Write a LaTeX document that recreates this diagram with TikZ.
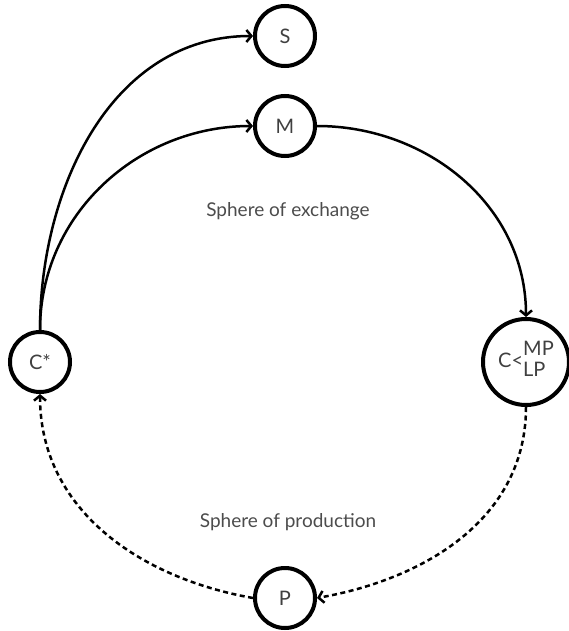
\documentclass[tikz,border=0pt]{standalone}
\usepackage{fontspec}
\setmainfont{Lato}
\usetikzlibrary{arrows.meta}
\begin{document}
\begin{tikzpicture}[x=1pt,y=-1pt,
  state/.style={circle,draw=black,line width=4pt,minimum size=#1,inner sep=0pt,
    text=black!75,font=\fontsize{20}{21}\selectfont},
  state/.default=60pt,
  flow/.style={line width=2.5pt,-{Straight Barb[length=5pt,width=12pt,line width=2.5pt]}},
  dflow/.style={flow,dash pattern=on 5pt off 3.5pt},
  caption/.style={text=black!70,font=\fontsize{19}{22}\selectfont}]
\useasboundingbox (0,0) rectangle (569,631);
\node[state] (S) at (285,36) {S};
\node[state] (M) at (285,126) {M};
\node[state] (Cs) at (40,362) {C*};
\node[state=86pt] (C) at (526,362)
  {C<\begin{tabular}[c]{@{}l@{}}MP\\LP\end{tabular}};
\node[state] (P) at (285,598) {P};
\node[caption] at (288,211) {Sphere of exchange};
\node[caption] at (288,522) {Sphere of production};
\draw[flow] (Cs.north) to[out=90,in=180] (S.west);
\draw[flow] (Cs.north) to[out=90,in=180] (M.west);
\draw[flow] (M.east) to[out=0,in=90] (C.north);
\draw[dflow] (C.south) to[out=-90,in=10] (P.east);
\draw[dflow] (P.west) to[out=170,in=-90] (Cs.south);
\end{tikzpicture}
\end{document}
